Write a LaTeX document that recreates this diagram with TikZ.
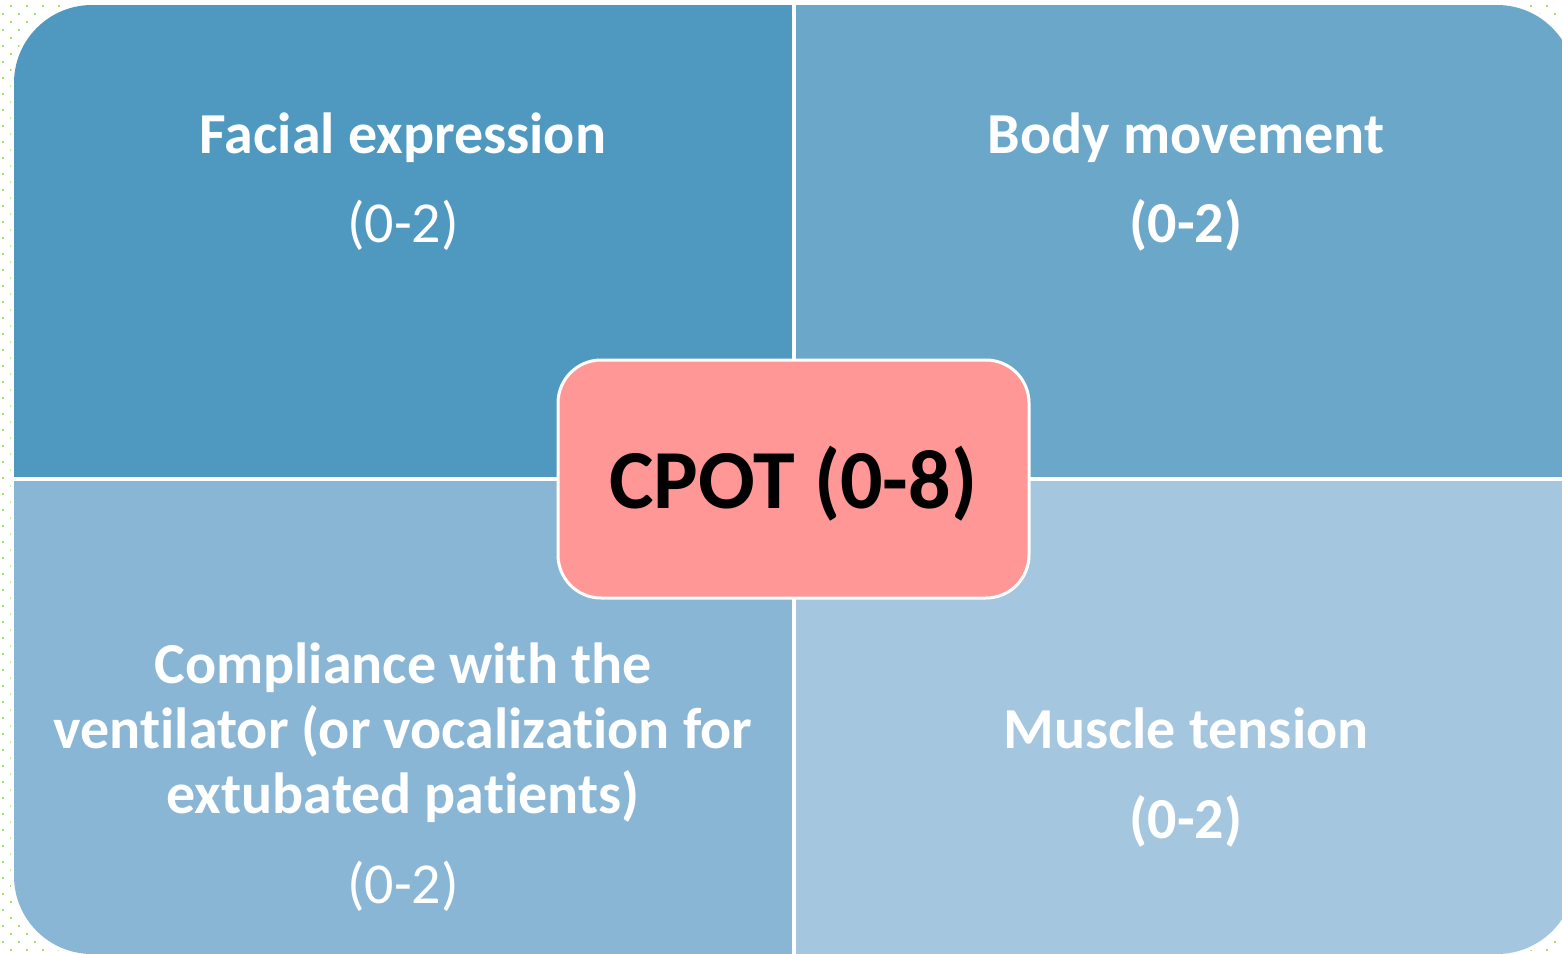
\documentclass[tikz,border=0pt]{standalone}
\usepackage{fontspec}
\setmainfont{Carlito}[Ligatures=NoCommon]
\definecolor{qtl}{HTML}{4F98BF}
\definecolor{qtr}{HTML}{6BA7C8}
\definecolor{qbl}{HTML}{89B6D5}
\definecolor{qbr}{HTML}{A4C6DF}
\definecolor{hub}{HTML}{FF9797}
\definecolor{dotc}{HTML}{A3E65C}
\tikzset{
  ttl/.style={anchor=base, text=white, inner sep=0pt, font=\fontsize{58}{65}\selectfont\bfseries},
  rng/.style={anchor=base, text=white, inner sep=0pt, font=\fontsize{58}{65}\selectfont},
  rngb/.style={rng, font=\fontsize{58}{65}\selectfont\bfseries},
  hubbox/.style={draw=white, line width=3pt, fill=hub, rounded corners=43pt, minimum width=471pt, minimum height=238pt, inner sep=0pt},
  dot/.style={fill=dotc}
}
\begin{document}
\begin{tikzpicture}[x=1pt,y=-1pt]
\useasboundingbox (0,0) rectangle (1562,953);
% background dots
\foreach \y in {6,22,...,950} {\foreach \x in {11,27,...,107} {\fill[dot] (\x-1,\y-1) rectangle (\x+1,\y+1);}}
\foreach \y in {14,30,...,942} {\foreach \x in {3,19,...,115} {\fill[dot] (\x-1,\y-1) rectangle (\x+1,\y+1);}}
\foreach \y in {6,22,...,54} {\foreach \x in {1483,1499,...,1563} {\fill[dot] (\x-1,\y-1) rectangle (\x+1,\y+1);}}
\foreach \y in {14,30,...,62} {\foreach \x in {1475,1491,...,1571} {\fill[dot] (\x-1,\y-1) rectangle (\x+1,\y+1);}}
\foreach \y in {902,918,...,950} {\foreach \x in {1483,1499,...,1563} {\fill[dot] (\x-1,\y-1) rectangle (\x+1,\y+1);}}
\foreach \y in {894,910,...,942} {\foreach \x in {1475,1491,...,1571} {\fill[dot] (\x-1,\y-1) rectangle (\x+1,\y+1);}}
% white outline of the matrix
\draw[white, line width=7pt, rounded corners=78pt] (14,5) rectangle (1575,954);
\fill[white, rounded corners=78pt] (14,5) rectangle (1575,954);
% quadrants
\begin{scope}
\clip[rounded corners=78pt] (14,5) rectangle (1575,954);
\fill[qtl] (14,5) rectangle (792,477);
\fill[qtr] (796,5) rectangle (1575,477);
\fill[qbl] (14,481) rectangle (792,954);
\fill[qbr] (796,481) rectangle (1575,954);
\end{scope}
% quadrant texts
\node[ttl] (tlt) at (403,153) {Facial expression};
\node[rng] (tlr) at (403,242) {(0-2)};
\node[ttl] (trt) at (1186,153) {Body movement};
\node[rngb] (trr) at (1186,242) {(0-2)};
\node[ttl] (bl1) at (403,683) {Compliance with the};
\node[ttl] (bl2) at (403,748) {ventilator (or vocalization for};
\node[ttl] (bl3) at (403,813) {extubated patients)};
\node[rng] (blr) at (403,903) {(0-2)};
\node[ttl] (brt) at (1186,748) {Muscle tension};
\node[rngb] (brr) at (1186,838) {(0-2)};
% hub
\node[hubbox] (hub) at (793.5,479) {};
\node[anchor=base, inner sep=0pt, font=\fontsize{84}{90}\selectfont\bfseries] (hubt) at (793.5,508) {CPOT (0-8)};
\end{tikzpicture}
\end{document}
